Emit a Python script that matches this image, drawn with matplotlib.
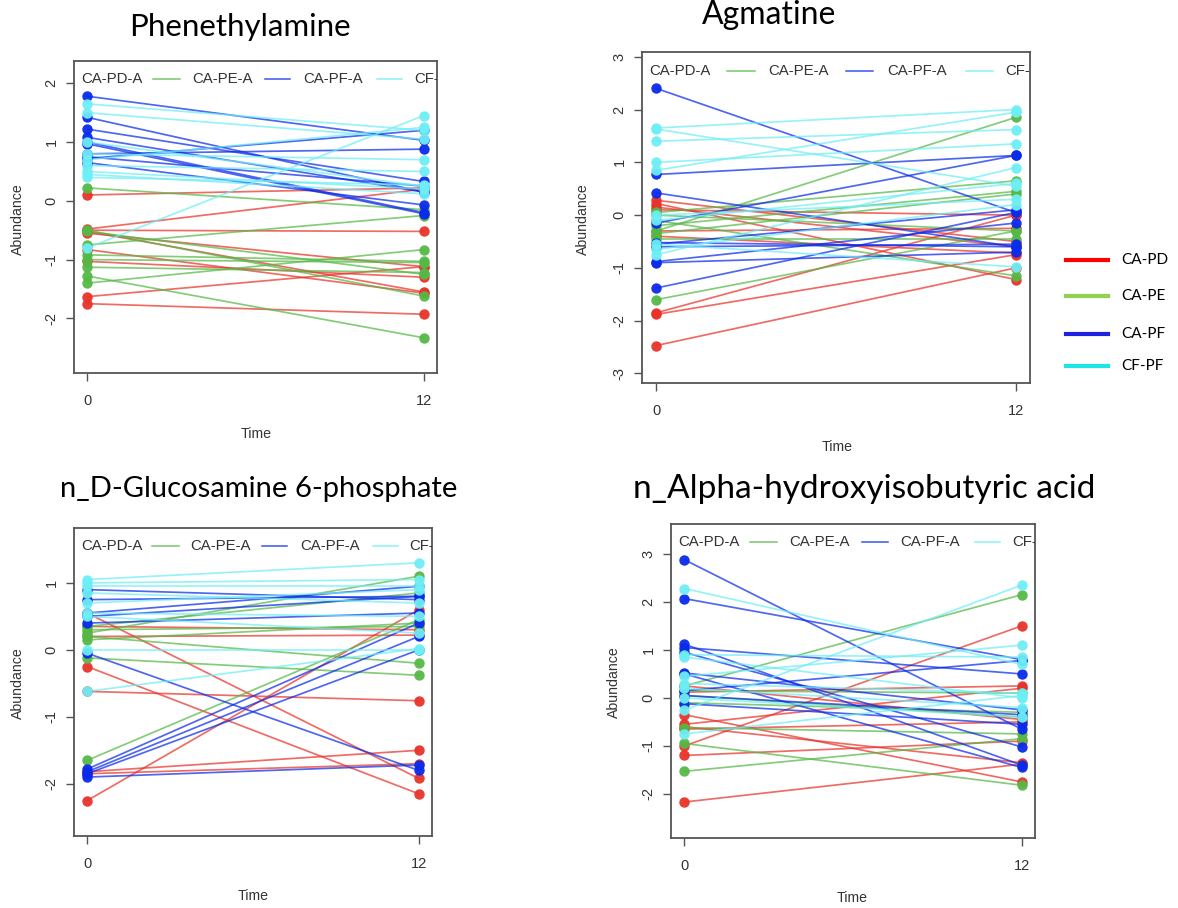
import matplotlib
matplotlib.use("Agg")
import matplotlib.pyplot as plt

plt.rcParams['font.family'] = ['Liberation Sans', 'DejaVu Sans']
plt.rcParams['axes.unicode_minus'] = False

# time points (hours)
TIMES = [0, 12]
GROUPS = ['CA-PD', 'CA-PE', 'CA-PF', 'CF-PF']
INNER_LEGEND = ['CA-PD-A', 'CA-PE-A', 'CA-PF-A', 'CF-PF-A']

# Phenethylamine, abundance at t=0 and t=12 per group
PHEN_PD_0 = [0.10, -0.48, -0.50, -0.55, -0.83, -1.03, -1.63, -1.75, -0.52]
PHEN_PD_12 = [0.22, 0.20, -0.52, -1.12, -1.57, -1.30, -1.12, -1.93, -1.55]
PHEN_PE_0 = [0.22, -0.50, -0.52, -0.75, -0.92, -1.13, -1.28, -1.40, -1.00]
PHEN_PE_12 = [-0.15, -1.62, -1.25, -0.25, -1.03, -1.22, -2.33, -0.83, -1.05]
PHEN_PF_0 = [1.78, 1.42, 1.22, 1.08, 0.97, 0.80, 0.72, 0.65, 1.00, 0.75]
PHEN_PF_12 = [1.03, 0.15, 0.33, 0.15, -0.22, 0.88, 1.20, -0.07, -0.20, 0.25]
PHEN_CF_0 = [1.65, 1.50, 1.00, 0.80, 0.60, 0.50, 0.40, -0.80, 0.70, 0.45]
PHEN_CF_12 = [1.20, 1.05, 0.25, 0.70, 0.50, 0.20, 0.27, 1.45, 1.25, 0.12]

# Agmatine
AGM_PD_0 = [0.28, 0.22, 0.10, -0.30, -0.40, -1.85, -1.88, -2.47, 0.15]
AGM_PD_12 = [-0.50, -1.22, 0.00, -0.25, -0.72, 0.00, -0.75, -1.00, -0.60]
AGM_PE_0 = [-0.30, 0.05, -0.35, -0.10, -1.60, -0.20, 0.00, -0.45]
AGM_PE_12 = [1.85, 0.65, 0.40, -1.15, -0.30, 0.45, -0.30, -0.45]
AGM_PF_0 = [2.40, 0.77, 0.42, -0.15, -0.52, -0.55, -0.88, -0.90, -1.38, -0.60]
AGM_PF_12 = [0.05, 1.13, -0.60, 1.13, -0.60, 0.10, -0.15, -0.70, 0.05, -0.55]
AGM_CF_0 = [1.65, 1.63, 1.40, 1.00, 0.85, 0.00, -0.10, -0.55, -0.65, -0.75]
AGM_CF_12 = [2.00, 0.55, 1.62, 1.35, 1.95, 0.30, 0.60, -0.98, 0.20, 0.90]

# n_D-Glucosamine 6-phosphate
GLC_PD_0 = [0.55, 0.35, 0.20, -0.25, -0.62, -1.82, -2.25, -1.85]
GLC_PD_12 = [-1.92, 0.30, 0.22, -2.15, -0.76, -1.50, 0.60, -1.70]
GLC_PE_0 = [0.30, 0.25, 0.20, 0.15, -0.12, -1.65, 0.35]
GLC_PE_12 = [0.35, 1.10, -0.20, 0.40, -0.38, 0.45, 0.85]
GLC_PF_0 = [0.90, 0.75, 0.55, 0.40, -0.05, -1.78, -1.82, -1.85, -1.90, 0.50]
GLC_PF_12 = [0.75, 0.80, 0.95, 0.55, -1.80, 0.40, 0.20, 0.00, -1.72, 0.80]
GLC_CF_0 = [1.05, 1.00, 0.95, 0.85, 0.70, 0.55, 0.50, 0.00, -0.62]
GLC_CF_12 = [1.30, 1.05, 0.95, 0.70, 0.90, 0.50, 0.25, 0.00, 0.02]

# n_Alpha-hydroxyisobutyric acid
AHB_PD_0 = [0.25, 0.12, -0.35, -0.55, -0.65, -1.00, -1.20, -2.17, -0.60]
AHB_PD_12 = [-0.45, 0.25, -1.75, 0.20, -0.50, 1.50, -0.90, -1.38, -1.35]
AHB_PE_0 = [0.25, 0.15, -0.10, -0.62, -0.95, -1.53, 0.05]
AHB_PE_12 = [2.15, 0.10, -0.30, -0.75, -1.82, -0.85, -0.40]
AHB_PF_0 = [2.88, 2.07, 1.12, 1.05, 0.95, 0.52, 0.50, 0.15, -0.12, 0.05]
AHB_PF_12 = [-0.65, 0.80, -1.40, 0.50, -1.02, -0.25, -1.45, 0.78, -0.55, -0.35]
AHB_CF_0 = [2.28, 0.90, 0.85, 0.45, 0.30, 0.20, -0.25, -0.75, 0.00]
AHB_CF_12 = [0.70, 0.85, 0.00, 1.10, 0.10, -0.20, 2.35, 0.05, -0.40]

DOT_COLORS = ['#E8332A', '#55B946', '#0A2BEB', '#6EEEF5']
KEY_COLORS = ['#FF0000', '#92D050', '#2020E0', '#1EE6E6']
BOX_COLOR = '#555555'

W, H = 1178, 908
fig = plt.figure(figsize=(W / 100, H / 100), dpi=100)


def px_axes(left, top, right, bottom):
    return fig.add_axes([left / W, 1 - bottom / H, (right - left) / W, (bottom - top) / H])


def draw_panel(box, ylim, yticks, groups, title, title_xy, title_size, ylab_xy, xlab_xy):
    ax = px_axes(*box)
    # lines first, dots on top
    for (t0, t12), c in zip(groups, DOT_COLORS):
        for a, b in zip(t0, t12):
            ax.plot(TIMES, [a, b], color=c, alpha=0.72, lw=1.25, zorder=2)
    for (t0, t12), c in zip(groups, DOT_COLORS):
        ax.plot([TIMES[0]] * len(t0), t0, 'o', color=c, ms=7.5, mec='none', alpha=0.95, zorder=3)
        ax.plot([TIMES[1]] * len(t12), t12, 'o', color=c, ms=7.5, mec='none', alpha=0.95, zorder=3)

    ax.set_xlim(-0.48, 12.48)
    ax.set_ylim(*ylim)
    ax.set_xticks(TIMES)
    ax.set_yticks(yticks)
    ax.tick_params(axis='both', length=6, width=1, color=BOX_COLOR, labelsize=10.5,
                   labelcolor='#333333')
    ax.tick_params(axis='x', pad=9)
    ax.tick_params(axis='y', labelrotation=90, pad=5)
    for lab in ax.get_yticklabels():
        lab.set_va('center')
    for s in ax.spines.values():
        s.set_color(BOX_COLOR)
        s.set_linewidth(1.3)

    # horizontal R-style legend, clipped at the box
    ly = 0.943
    text_x = [0.019, 0.325, 0.631, 0.937]
    line_x = [(0.218, 0.292), (0.526, 0.595), (0.835, 0.904)]
    for i, name in enumerate(INNER_LEGEND):
        ax.text(text_x[i], ly, name, transform=ax.transAxes, fontsize=10.8, color='#333333',
                va='center', ha='left', clip_on=True)
        if i > 0:
            x0, x1 = line_x[i - 1]
            ax.plot([x0, x1], [ly, ly], color=DOT_COLORS[i], lw=1.1, alpha=0.8,
                    transform=ax.transAxes)

    fig.text(title_xy[0] / W, 1 - title_xy[1] / H, title, fontsize=title_size,
             family=['Lato', 'DejaVu Sans'], ha='center', va='center')
    fig.text(ylab_xy[0] / W, 1 - ylab_xy[1] / H, 'Abundance', rotation=90, fontsize=10.2,
             color='#333333', ha='center', va='center')
    fig.text(xlab_xy[0] / W, 1 - xlab_xy[1] / H, 'Time', fontsize=10.2,
             color='#333333', ha='center', va='center')


draw_panel((74, 61, 437, 373), (-2.93, 2.38), [-2, -1, 0, 1, 2],
           [(PHEN_PD_0, PHEN_PD_12), (PHEN_PE_0, PHEN_PE_12),
            (PHEN_PF_0, PHEN_PF_12), (PHEN_CF_0, PHEN_CF_12)],
           'Phenethylamine', (240, 27), 22.5, (18, 219), (256, 434))

draw_panel((642, 52, 1030, 383), (-3.18, 3.09), [-3, -2, -1, 0, 1, 2, 3],
           [(AGM_PD_0, AGM_PD_12), (AGM_PE_0, AGM_PE_12),
            (AGM_PF_0, AGM_PF_12), (AGM_CF_0, AGM_CF_12)],
           'Agmatine', (769, 15), 23, (583, 219), (837, 447))

draw_panel((74, 528, 432, 836), (-2.78, 1.82), [-2, -1, 0, 1],
           [(GLC_PD_0, GLC_PD_12), (GLC_PE_0, GLC_PE_12),
            (GLC_PF_0, GLC_PF_12), (GLC_CF_0, GLC_CF_12)],
           'n_D-Glucosamine 6-phosphate', (259, 489), 21, (18, 683), (253, 896))

draw_panel((671, 524, 1035, 838), (-2.92, 3.625), [-2, -1, 0, 1, 2, 3],
           [(AHB_PD_0, AHB_PD_12), (AHB_PE_0, AHB_PE_12),
            (AHB_PF_0, AHB_PF_12), (AHB_CF_0, AHB_CF_12)],
           'n_Alpha-hydroxyisobutyric acid', (864, 489), 24, (614, 682), (852, 898))

# group key on the right
key_y = [260, 296, 334, 366]
for name, c, y in zip(GROUPS, KEY_COLORS, key_y):
    fig.add_artist(plt.Line2D([1066 / W, 1108 / W], [1 - y / H, 1 - y / H], color=c, lw=3))
    fig.text(1121 / W, 1 - y / H, name, fontsize=11, family=['Lato', 'DejaVu Sans'],
             ha='left', va='center')

fig.savefig('out.png', dpi=100)
